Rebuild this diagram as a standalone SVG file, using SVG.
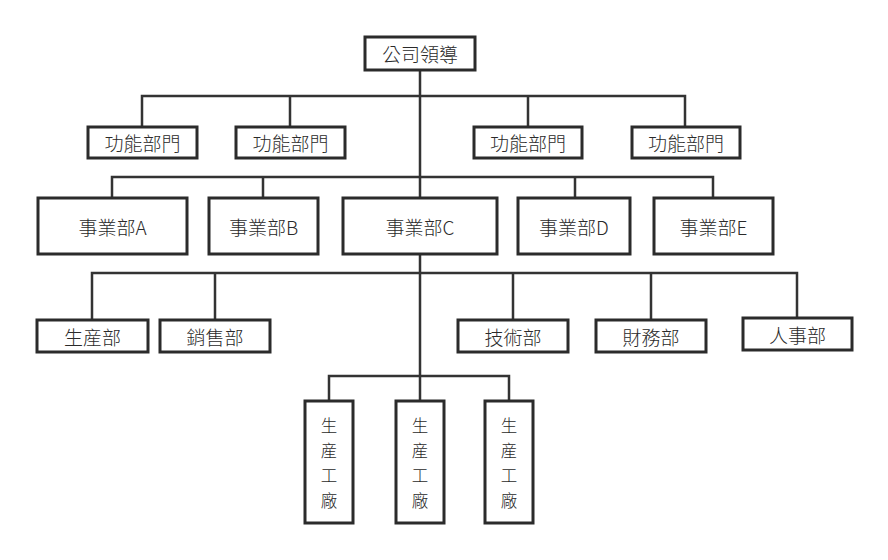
<svg xmlns="http://www.w3.org/2000/svg" width="888" height="560" viewBox="0 0 888 560">
<style>
.box{fill:#fff;stroke:#2b2b2b;stroke-width:3}
.t{font-family:"Noto Sans CJK TC","Noto Sans CJK JP",sans-serif;font-size:19px;font-weight:300;fill:#2a2a2a;text-anchor:middle;dominant-baseline:central}
.v{font-size:16.5px}
.c{fill:none;stroke:#333;stroke-width:2.5}
</style>
<rect width="888" height="560" fill="#fff"/>
<g id="connectors">
<path class="c" d="M420 70V376M142 127V96H685V127M290 96V127M528 96V127"/>
<path class="c" d="M112 198V177H713V198M263 177V198M575 177V198"/>
<path class="c" d="M92 320V273H797V318M215 273V320M513 273V320M651 273V320"/>
<path class="c" d="M329 401V376H509V401M420 376V401"/>
</g>
<g id="n0"><rect class="box" x="365" y="37" width="110" height="33"/><text class="t" x="420" y="53.5">公司領導</text></g>
<g id="f1"><rect class="box" x="88" y="127" width="109" height="31"/><text class="t" x="142.5" y="142.5">功能部門</text></g>
<g id="f2"><rect class="box" x="236" y="127" width="109" height="31"/><text class="t" x="290.5" y="142.5">功能部門</text></g>
<g id="f3"><rect class="box" x="474" y="127" width="108" height="31"/><text class="t" x="528" y="142.5">功能部門</text></g>
<g id="f4"><rect class="box" x="632" y="127" width="108" height="31"/><text class="t" x="686" y="142.5">功能部門</text></g>
<g id="dA"><rect class="box" x="38" y="198" width="149" height="56"/><text class="t" x="112.5" y="226">事業部A</text></g>
<g id="dB"><rect class="box" x="209" y="198" width="109" height="56"/><text class="t" x="263.5" y="226">事業部B</text></g>
<g id="dC"><rect class="box" x="343" y="198" width="154" height="56"/><text class="t" x="420" y="226">事業部C</text></g>
<g id="dD"><rect class="box" x="518" y="198" width="112" height="56"/><text class="t" x="574" y="226">事業部D</text></g>
<g id="dE"><rect class="box" x="654" y="198" width="119" height="56"/><text class="t" x="713.5" y="226">事業部E</text></g>
<g id="p1"><rect class="box" x="37" y="320" width="111" height="32"/><text class="t" x="92.5" y="336">生産部</text></g>
<g id="p2"><rect class="box" x="160" y="320" width="110" height="32"/><text class="t" x="215" y="336">銷售部</text></g>
<g id="p3"><rect class="box" x="458" y="320" width="110" height="32"/><text class="t" x="513" y="336">技術部</text></g>
<g id="p4"><rect class="box" x="596" y="320" width="110" height="32"/><text class="t" x="651" y="336">財務部</text></g>
<g id="p5"><rect class="box" x="743" y="318" width="109" height="32"/><text class="t" x="797.5" y="334">人事部</text></g>
<g id="k1"><rect class="box" x="305" y="401" width="48" height="122"/><text class="t v" x="329" y="425">生</text><text class="t v" x="329" y="450">産</text><text class="t v" x="329" y="475">工</text><text class="t v" x="329" y="500">廠</text></g>
<g id="k2"><rect class="box" x="396" y="401" width="48" height="122"/><text class="t v" x="420" y="425">生</text><text class="t v" x="420" y="450">産</text><text class="t v" x="420" y="475">工</text><text class="t v" x="420" y="500">廠</text></g>
<g id="k3"><rect class="box" x="485" y="401" width="48" height="122"/><text class="t v" x="509" y="425">生</text><text class="t v" x="509" y="450">産</text><text class="t v" x="509" y="475">工</text><text class="t v" x="509" y="500">廠</text></g>
</svg>
